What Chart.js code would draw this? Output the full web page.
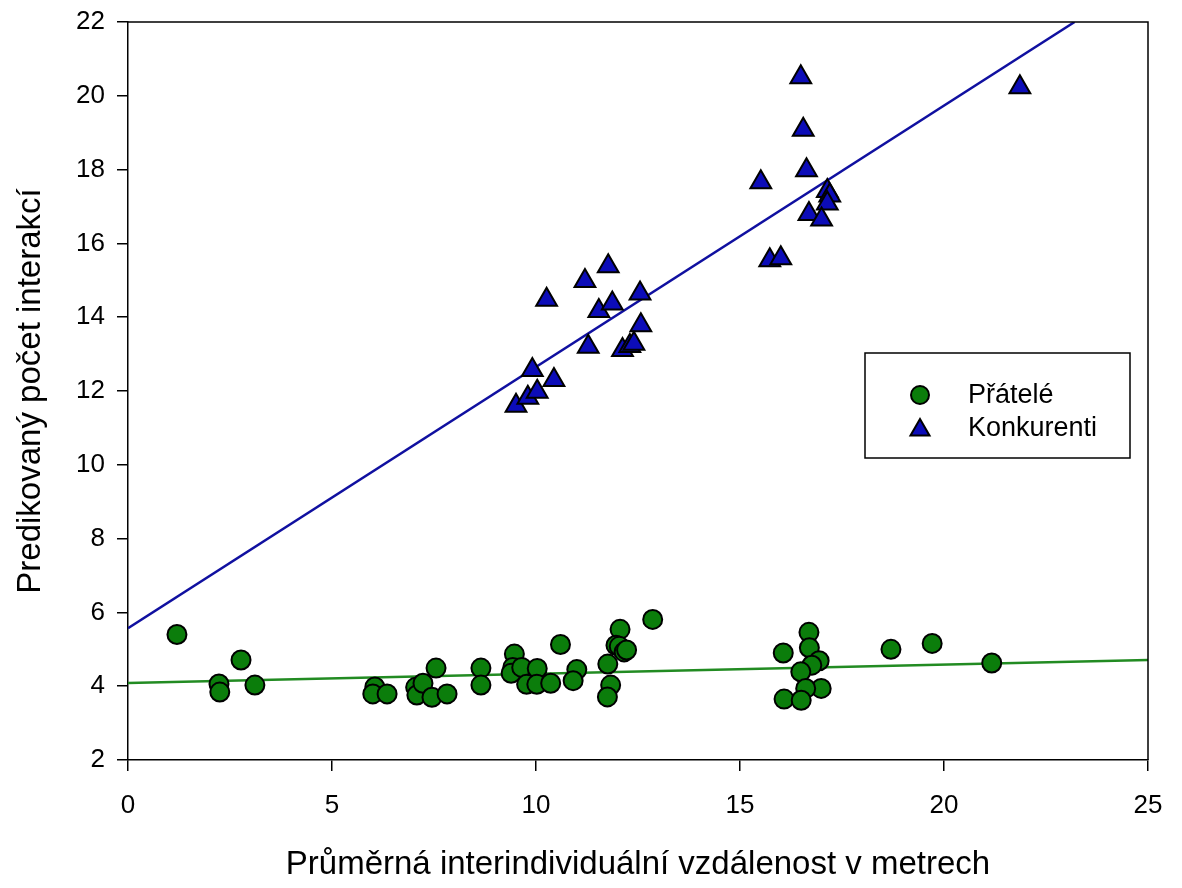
<!DOCTYPE html>
<html>
<head>
<meta charset="utf-8">
<script src="https://cdn.jsdelivr.net/npm/chart.js@4/dist/chart.umd.min.js"></script>
<style>
  body { margin: 0; background: #fff; }
  canvas { display: block; }
</style>
</head>
<body>
<canvas id="chart" width="1182" height="888"></canvas>
<script>
// Přátelé (friends) - green circles
const friendsX = [1.2, 2.23, 2.25, 2.77, 3.11, 6.05, 6.0, 6.35, 7.05, 7.08, 7.23, 7.55, 7.45, 7.82, 8.65, 8.65,
    9.47, 9.43, 9.39, 9.65, 10.03, 9.77, 10.02, 10.36, 10.6, 11.0, 10.91, 11.76, 11.83, 11.75,
    12.06, 11.96, 12.04, 12.16, 12.22, 12.86, 16.06, 16.69, 16.7, 16.94, 16.76, 16.49, 16.99, 16.61,
    16.08, 16.5, 18.7, 19.71, 21.17];
const friendsY = [5.4, 4.06, 3.84, 4.71, 4.03, 3.98, 3.79, 3.79, 3.97, 3.76, 4.08, 4.49, 3.70, 3.79, 4.49, 4.03,
    4.87, 4.51, 4.35, 4.51, 4.48, 4.05, 4.05, 4.08, 5.13, 4.45, 4.15, 4.6, 4.03, 3.71,
    5.54, 5.11, 5.08, 4.93, 4.98, 5.81, 4.9, 5.46, 5.04, 4.69, 4.57, 4.39, 3.94, 3.94,
    3.65, 3.62, 5.0, 5.16, 4.63];

// Konkurenti (competitors) - blue triangles
const rivalsX = [9.51, 9.8, 10.03, 9.91, 10.44, 10.26, 11.28, 11.2, 11.77, 11.54, 11.87, 12.55, 12.57, 12.12,
    12.3, 12.4, 16.49, 16.55, 16.63, 15.51, 17.14, 17.2, 17.14, 16.69, 17.0, 21.86, 15.73, 16.0];
const rivalsY = [11.6, 11.82, 11.98, 12.57, 12.3, 14.47, 13.2, 14.98, 15.38, 14.17, 14.37, 14.64, 13.78, 13.11,
    13.22, 13.28, 20.5, 19.08, 17.98, 17.66, 17.42, 17.3, 17.08, 16.8, 16.65, 20.23, 15.54, 15.6];

// regression lines (endpoints)
const friendsFitX = [0, 25];
const friendsFitY = [4.09, 4.71];
const rivalsFitX = [0, 23.2];
const rivalsFitY = [5.57, 22];

const xTicks = [0, 5, 10, 15, 20, 25];
const yTicks = [2, 4, 6, 8, 10, 12, 14, 16, 18, 20, 22];

const GREEN = "#0b7d0b";
const BLUE = "#0c0cb8";
const FONT = "'Liberation Sans', Arial, sans-serif";

function toPoints(xs, ys) {
    return xs.map((x, i) => ({ x: x, y: ys[i] }));
}

const frame = {
    id: "frame",
    afterDatasetsDraw(chart) {
        const { ctx, chartArea: a } = chart;
        ctx.save();
        ctx.strokeStyle = "#000";
        ctx.lineWidth = 1.5;
        ctx.beginPath();
        ctx.moveTo(a.left, a.top);
        ctx.lineTo(a.right, a.top);
        ctx.lineTo(a.right, a.bottom);
        ctx.stroke();
        ctx.restore();
    }
};

const boxLegend = {
    id: "boxLegend",
    afterDraw(chart) {
        const { ctx, chartArea: a } = chart;
        const left = a.right - 283, top = a.top + 331, w = 265, h = 105;
        ctx.save();
        ctx.fillStyle = "#fff";
        ctx.fillRect(left, top, w, h);
        ctx.strokeStyle = "#000";
        ctx.lineWidth = 1.5;
        ctx.strokeRect(left, top, w, h);
        ctx.font = "27px " + FONT;
        ctx.textBaseline = "middle";
        const rows = [chart.data.datasets[0], chart.data.datasets[1]];
        rows.forEach((ds, i) => {
            const cy = top + 42 + i * 33;
            const cx = left + 55;
            ctx.fillStyle = ds.backgroundColor;
            ctx.strokeStyle = ds.borderColor;
            ctx.lineWidth = ds.borderWidth;
            Chart.helpers.drawPoint(ctx, {
                pointStyle: ds.pointStyle,
                radius: ds.pointStyle === "triangle" ? 11 : 9,
                borderWidth: ds.borderWidth
            }, cx, ds.pointStyle === "triangle" ? cy + 2 : cy);
            ctx.fillStyle = "#000";
            ctx.fillText(ds.label, left + 103, cy + 1);
        });
        ctx.restore();
    }
};

const axisCommon = {
    grid: { drawOnChartArea: false, color: "#000", lineWidth: 1.5, tickLength: 11 },
    border: { color: "#000", width: 1.5 },
    ticks: { color: "#000", font: { family: FONT, size: 26 } }
};

const ctx = document.getElementById("chart").getContext("2d");
new Chart(ctx, {
    type: "scatter",
    data: {
        datasets: [
            {
                label: "Přátelé",
                data: toPoints(friendsX, friendsY),
                pointStyle: "circle",
                pointRadius: 9.5,
                backgroundColor: GREEN,
                borderColor: "#000",
                borderWidth: 2,
                order: 0
            },
            {
                label: "Konkurenti",
                data: toPoints(rivalsX, rivalsY),
                pointStyle: "triangle",
                pointRadius: 12,
                backgroundColor: BLUE,
                borderColor: "#000",
                borderWidth: 2,
                order: 0
            },
            {
                label: "fit1",
                type: "line",
                data: toPoints(friendsFitX, friendsFitY),
                borderColor: "#228b22",
                borderWidth: 2.5,
                pointRadius: 0,
                order: 1
            },
            {
                label: "fit2",
                type: "line",
                data: toPoints(rivalsFitX, rivalsFitY),
                borderColor: "#1010a0",
                borderWidth: 2.5,
                pointRadius: 0,
                order: 1
            }
        ]
    },
    options: {
        responsive: false,
        animation: false,
        layout: { padding: { top: 22, right: 34, left: 0, bottom: 0 } },
        plugins: { legend: { display: false }, tooltip: { enabled: false } },
        scales: {
            x: {
                ...axisCommon,
                type: "linear",
                min: 0,
                max: 25,
                afterBuildTicks: scale => { scale.ticks = xTicks.map(v => ({ value: v })); },
                afterFit: scale => { scale.height = 128; },
                ticks: { ...axisCommon.ticks, padding: 19, maxRotation: 0 },
                title: {
                    display: true,
                    text: "Průměrná interindividuální vzdálenost v metrech",
                    color: "#000",
                    font: { family: FONT, size: 33 },
                    padding: { top: 0, bottom: 3 }
                }
            },
            y: {
                ...axisCommon,
                type: "linear",
                min: 2,
                max: 22,
                afterBuildTicks: scale => { scale.ticks = yTicks.map(v => ({ value: v })); },
                afterFit: scale => {
                    scale.width = 128;
                    scale.paddingTop = 0;
                    scale.paddingBottom = 0;
                },
                ticks: { ...axisCommon.ticks, padding: 12 },
                title: {
                    display: true,
                    text: "Predikovaný počet interakcí",
                    color: "#000",
                    font: { family: FONT, size: 33 },
                    padding: { top: 11, bottom: 0 }
                }
            }
        }
    },
    plugins: [frame, boxLegend]
});
</script>
</body>
</html>
